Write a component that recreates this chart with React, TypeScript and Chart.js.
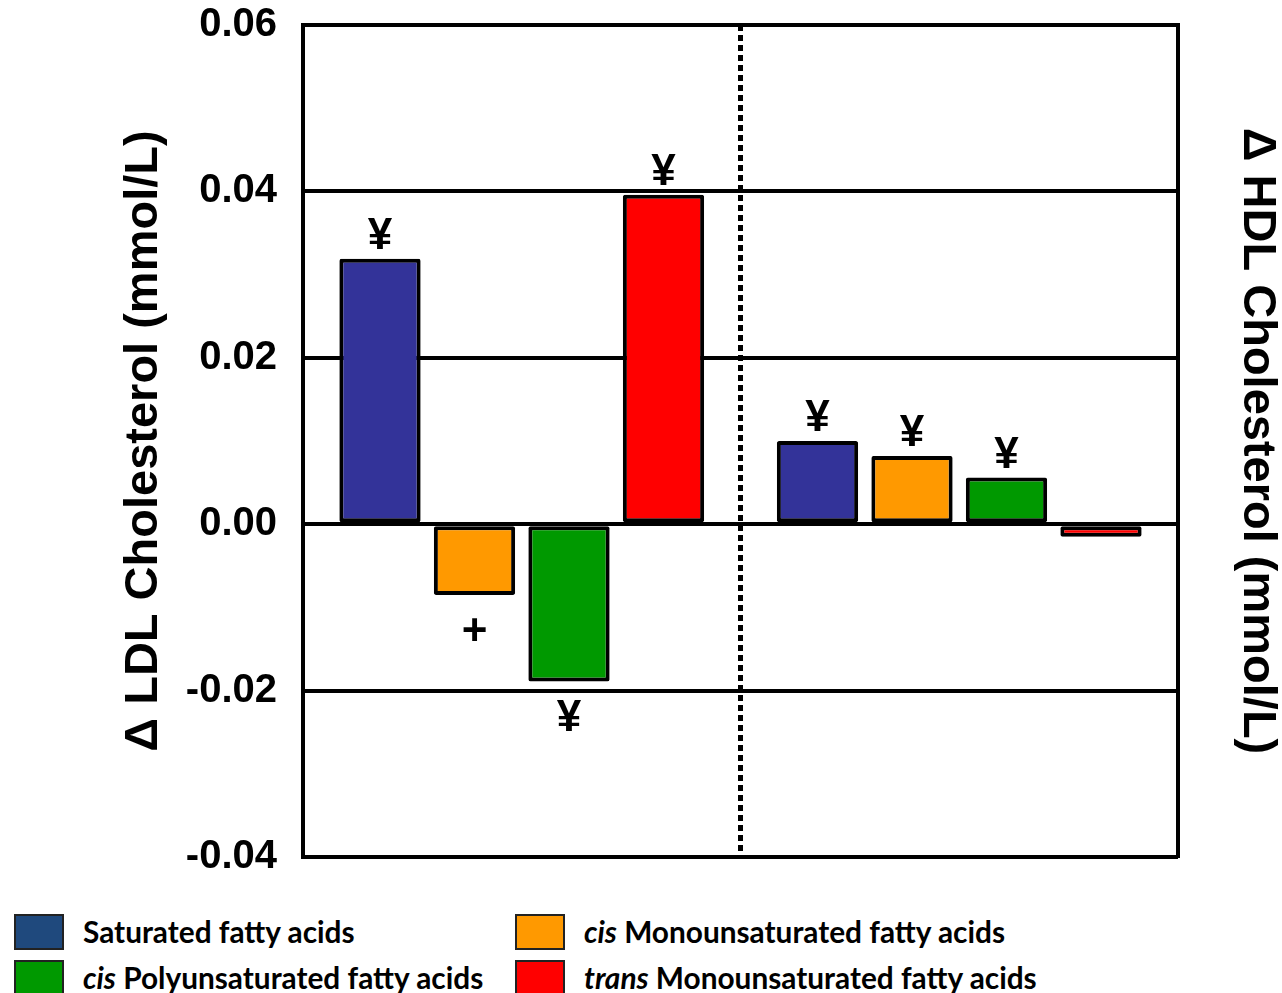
import React, { useEffect, useRef } from "react";
import { Chart, registerables } from "chart.js";

Chart.register(...registerables);

const categories = ["Δ LDL", "Δ HDL"];
const seriesNames = [
  "Saturated fatty acids",
  "cis Monounsaturated fatty acids",
  "cis Polyunsaturated fatty acids",
  "trans Monounsaturated fatty acids",
];
const sfaValues = [0.0319, 0.01];
const cisMufaValues = [-0.0085, 0.0082];
const cisPufaValues = [-0.0189, 0.0056];
const transMufaValues = [0.0396, -0.0015];

const sfaMarks = ["¥", "¥"];
const cisMufaMarks = ["+", "¥"];
const cisPufaMarks = ["¥", "¥"];
const transMufaMarks = ["¥", ""];

const yMin = -0.04;
const yMax = 0.06;
const yStep = 0.02;

const leftTitle = "Δ LDL Cholesterol (mmol/L)";
const rightTitle = "Δ HDL Cholesterol (mmol/L)";

const barColors = ["#333399", "#FF9900", "#009900", "#FF0000"];
const legendColors = ["#1F497D", "#FF9900", "#009900", "#FF0000"];

const AXIS_FONT = "'Liberation Sans', Arial, sans-serif";

const marksPlugin = {
  id: "sigMarks",
  afterDatasetsDraw(chart: any) {
    const ctx = chart.ctx;
    const allMarks = [sfaMarks, cisMufaMarks, cisPufaMarks, transMufaMarks];
    ctx.save();
    ctx.fillStyle = "#000";
    ctx.font = `bold 44px ${AXIS_FONT}`;
    ctx.textAlign = "center";
    ctx.textBaseline = "alphabetic";
    chart.data.datasets.forEach((ds: any, i: number) => {
      const meta = chart.getDatasetMeta(i);
      meta.data.forEach((el: any, j: number) => {
        const m = allMarks[i][j];
        if (!m) return;
        const v = ds.data[j];
        if (v >= 0) ctx.fillText(m, el.x, el.y - 10);
        else ctx.fillText(m, el.x, el.y + 50);
      });
    });
    ctx.restore();
  },
};

const dividerPlugin = {
  id: "divider",
  afterDatasetsDraw(chart: any) {
    const x = chart.scales.x;
    const { top, bottom } = chart.chartArea;
    const px = (x.getPixelForValue(0) + x.getPixelForValue(1)) / 2;
    const ctx = chart.ctx;
    ctx.save();
    ctx.strokeStyle = "#000";
    ctx.lineWidth = 5;
    ctx.setLineDash([6, 4]);
    ctx.beginPath();
    ctx.moveTo(px, top);
    ctx.lineTo(px, bottom);
    ctx.stroke();
    ctx.restore();
  },
};

function Legend() {
  const items = [
    { color: legendColors[0], pre: "", rest: "Saturated fatty acids", left: 14, top: 914 },
    { color: legendColors[1], pre: "cis", rest: " Monounsaturated fatty acids", left: 515, top: 914 },
    { color: legendColors[2], pre: "cis", rest: " Polyunsaturated fatty acids", left: 14, top: 960 },
    { color: legendColors[3], pre: "trans", rest: " Monounsaturated fatty acids", left: 515, top: 960 },
  ];
  return (
    <>
      {items.map((it, i) => (
        <div
          key={i}
          style={{
            position: "absolute",
            left: it.left,
            top: it.top,
            display: "flex",
            alignItems: "center",
            height: 35,
          }}
        >
          <div
            style={{
              width: 46,
              height: 32,
              background: it.color,
              border: "2px solid #222",
              boxSizing: "content-box",
            }}
          />
          <div
            style={{
              marginLeft: 19,
              fontFamily: "Lato, 'Open Sans', sans-serif",
              fontWeight: 700,
              fontSize: 29.8,
              color: "#000",
              whiteSpace: "nowrap",
            }}
          >
            {it.pre ? <i>{it.pre}</i> : null}
            {it.rest}
          </div>
        </div>
      ))}
    </>
  );
}

export default function App() {
  const canvasRef = useRef<HTMLCanvasElement | null>(null);

  useEffect(() => {
    document.body.style.margin = "0";
    const canvas = canvasRef.current;
    if (!canvas) return;
    const valueSets = [sfaValues, cisMufaValues, cisPufaValues, transMufaValues];
    const chart = new Chart(canvas, {
      type: "bar",
      data: {
        labels: categories,
        datasets: valueSets.map((vals, i) => ({
          label: seriesNames[i],
          data: vals,
          backgroundColor: barColors[i],
          borderColor: "#000",
          borderWidth: 4,
          borderSkipped: false,
          borderRadius: 2,
          categoryPercentage: 0.864,
          barPercentage: 0.86,
        })),
      },
      options: {
        responsive: false,
        animation: false,
        devicePixelRatio: 1,
        layout: { padding: { top: 25, bottom: 43, left: 0, right: 0 } },
        plugins: {
          legend: { display: false },
          tooltip: { enabled: false },
        },
        scales: {
          x: {
            display: false,
          },
          y: {
            position: "left",
            min: yMin,
            max: yMax,
            afterFit: (s: any) => {
              s.width = 303;
              s.paddingTop = 0;
              s.paddingBottom = 0;
            },
            ticks: {
              stepSize: yStep,
              padding: 26,
              color: "#000",
              font: { family: AXIS_FONT, size: 40, weight: "bold" },
              callback: (v: any) => Number(v).toFixed(2),
            },
            grid: {
              color: "#000",
              lineWidth: 4,
              drawTicks: false,
            },
            border: { display: true, color: "#000", width: 4 },
            title: {
              display: true,
              text: leftTitle,
              color: "#000",
              padding: { top: 121, bottom: 0 },
              font: { family: AXIS_FONT, size: 47, weight: "bold", lineHeight: 1 },
            },
          },
          y2: {
            position: "right",
            min: yMin,
            max: yMax,
            afterFit: (s: any) => {
              s.width = 104;
              s.paddingTop = 0;
              s.paddingBottom = 0;
            },
            ticks: { display: false },
            grid: { display: false, drawTicks: false },
            border: { display: true, color: "#000", width: 4 },
            title: {
              display: true,
              text: rightTitle,
              color: "#000",
              padding: { top: 2, bottom: 0 },
              font: { family: AXIS_FONT, size: 47, weight: "bold", lineHeight: 1 },
            },
          },
        },
      },
      plugins: [dividerPlugin, marksPlugin],
    });
    return () => chart.destroy();
  }, []);

  return (
    <div style={{ position: "relative", width: 1282, height: 993, background: "#fff" }}>
      <canvas ref={canvasRef} width={1282} height={900} style={{ position: "absolute", left: 0, top: 0 }} />
      <Legend />
    </div>
  );
}
